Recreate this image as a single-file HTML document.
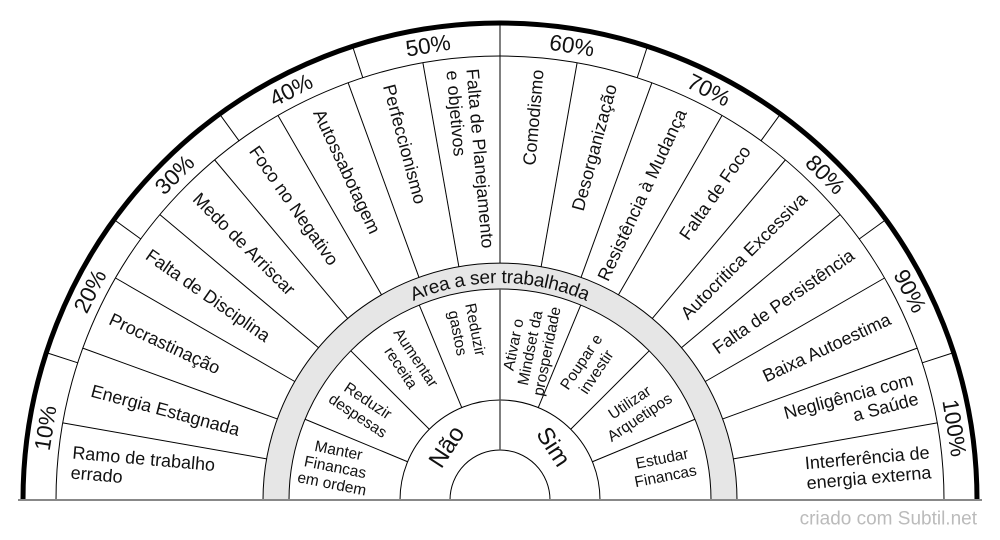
<!DOCTYPE html>
<html><head><meta charset="utf-8"><style>
html,body{margin:0;padding:0;background:#fff;}
svg{display:block;font-family:"Liberation Sans",Arial,sans-serif;}
.m{font-size:18px;fill:#111}
.p{font-size:22.5px;fill:#111}
.i{font-size:15.5px;fill:#111}
</style></head><body>
<svg width="1000" height="540" viewBox="0 0 1000 540" xmlns="http://www.w3.org/2000/svg">
<defs><path id="ap" d="M 277 500 A 223 223 0 0 1 723 500"/></defs>
<path d="M 263 500 A 237 237 0 0 1 737 500 L 711 500 A 211 211 0 0 0 289 500 Z" fill="#e6e6e6" stroke="#000" stroke-width="1"/>
<g fill="none" stroke="#000" stroke-width="1">
<path d="M 450 500 A 50 50 0 0 1 550 500"/>
<path d="M 400 500 A 100 100 0 0 1 600 500"/>
<path d="M 56 500 A 444 444 0 0 1 944 500"/>
</g>
<path d="M 23 500 A 477 477 0 0 1 977 500" fill="none" stroke="#000" stroke-width="5"/>
<g transform="translate(500,500)" stroke="#000" stroke-width="1">
<line x1="-237" y1="0" x2="-444" y2="0" transform="rotate(10)"/>
<line x1="-237" y1="0" x2="-444" y2="0" transform="rotate(20)"/>
<line x1="-237" y1="0" x2="-444" y2="0" transform="rotate(30)"/>
<line x1="-237" y1="0" x2="-444" y2="0" transform="rotate(40)"/>
<line x1="-237" y1="0" x2="-444" y2="0" transform="rotate(50)"/>
<line x1="-237" y1="0" x2="-444" y2="0" transform="rotate(60)"/>
<line x1="-237" y1="0" x2="-444" y2="0" transform="rotate(70)"/>
<line x1="-237" y1="0" x2="-444" y2="0" transform="rotate(80)"/>
<line x1="-237" y1="0" x2="-477" y2="0" transform="rotate(90)"/>
<line x1="-237" y1="0" x2="-444" y2="0" transform="rotate(100)"/>
<line x1="-237" y1="0" x2="-444" y2="0" transform="rotate(110)"/>
<line x1="-237" y1="0" x2="-444" y2="0" transform="rotate(120)"/>
<line x1="-237" y1="0" x2="-444" y2="0" transform="rotate(130)"/>
<line x1="-237" y1="0" x2="-444" y2="0" transform="rotate(140)"/>
<line x1="-237" y1="0" x2="-444" y2="0" transform="rotate(150)"/>
<line x1="-237" y1="0" x2="-444" y2="0" transform="rotate(160)"/>
<line x1="-237" y1="0" x2="-444" y2="0" transform="rotate(170)"/>
<line x1="-444" y1="0" x2="-477" y2="0" transform="rotate(18)"/>
<line x1="-444" y1="0" x2="-477" y2="0" transform="rotate(36)"/>
<line x1="-444" y1="0" x2="-477" y2="0" transform="rotate(54)"/>
<line x1="-444" y1="0" x2="-477" y2="0" transform="rotate(72)"/>
<line x1="-444" y1="0" x2="-477" y2="0" transform="rotate(108)"/>
<line x1="-444" y1="0" x2="-477" y2="0" transform="rotate(126)"/>
<line x1="-444" y1="0" x2="-477" y2="0" transform="rotate(144)"/>
<line x1="-444" y1="0" x2="-477" y2="0" transform="rotate(162)"/>
<line x1="-100" y1="0" x2="-211" y2="0" transform="rotate(22.5)"/>
<line x1="-100" y1="0" x2="-211" y2="0" transform="rotate(45)"/>
<line x1="-100" y1="0" x2="-211" y2="0" transform="rotate(67.5)"/>
<line x1="-100" y1="0" x2="-211" y2="0" transform="rotate(112.5)"/>
<line x1="-100" y1="0" x2="-211" y2="0" transform="rotate(135)"/>
<line x1="-100" y1="0" x2="-211" y2="0" transform="rotate(157.5)"/>
<line x1="0" y1="-50" x2="0" y2="-211" stroke="#555" stroke-width="1.5"/>
</g>
<line x1="18" y1="500" x2="982" y2="500" stroke="#888" stroke-width="2"/>

<g class="m" transform="translate(500,500)" dominant-baseline="central">
<text transform="rotate(5)"><tspan x="-430" y="-10">Ramo de trabalho</tspan><tspan x="-430" y="10">errado</tspan></text>
<text transform="rotate(15)" x="-423" y="0">Energia Estagnada</text>
<text transform="rotate(25)" x="-430" y="0">Procrastinação</text>
<text transform="rotate(35)" x="-430" y="0">Falta de Disciplina</text>
<text transform="rotate(45)" x="-430" y="0">Medo de Arriscar</text>
<text transform="rotate(55)" x="-430" y="0">Foco no Negativo</text>
<text transform="rotate(65)" x="-430" y="0">Autossabotagem</text>
<text transform="rotate(75)" x="-430" y="0">Perfeccionismo</text>
<text transform="rotate(85)"><tspan x="-432" y="-10">Falta de Planejamento</tspan><tspan x="-432" y="10">e objetivos</tspan></text>
</g>
<g class="m" transform="translate(500,500)" dominant-baseline="central" text-anchor="end">
<text transform="rotate(-85)" x="432" y="0">Comodismo</text>
<text transform="rotate(-75)" x="430" y="0">Desorganização</text>
<text transform="rotate(-65)" x="430" y="0">Resistência à Mudança</text>
<text transform="rotate(-55)" x="430" y="0">Falta de Foco</text>
<text transform="rotate(-45)" x="430" y="0">Autocritica Excessiva</text>
<text transform="rotate(-35)" x="430" y="0">Falta de Persistência</text>
<text transform="rotate(-25)" x="430" y="0">Baixa Autoestima</text>
<text transform="rotate(-15)"><tspan x="430" y="-10">Negligência com</tspan><tspan x="430" y="10">a Saúde</tspan></text>
<text transform="rotate(-5)"><tspan x="432" y="-10">Interferência de</tspan><tspan x="432" y="10">energia externa</tspan></text>
</g>
<g class="p" transform="translate(500,500)" dominant-baseline="central" text-anchor="middle">
<text transform="rotate(-81)" x="0" y="-460">10%</text>
<text transform="rotate(-63)" x="0" y="-460">20%</text>
<text transform="rotate(-45)" x="0" y="-460">30%</text>
<text transform="rotate(-27)" x="0" y="-460">40%</text>
<text transform="rotate(-9)" x="0" y="-460">50%</text>
<text transform="rotate(9)" x="0" y="-460">60%</text>
<text transform="rotate(27)" x="0" y="-460">70%</text>
<text transform="rotate(45)" x="0" y="-460">80%</text>
<text transform="rotate(63)" x="0" y="-460">90%</text>
<text transform="rotate(81)" x="0" y="-460">100%</text>
</g>
<g class="i" transform="translate(500,500)" dominant-baseline="central" text-anchor="middle">
<text transform="rotate(11.25)"><tspan x="-168" y="-17">Manter</tspan><tspan x="-168" y="0">Financas</tspan><tspan x="-168" y="17">em ordem</tspan></text>
<text transform="rotate(33.75)"><tspan x="-165" y="-9">Reduzir</tspan><tspan x="-165" y="9">despesas</tspan></text>
<text transform="rotate(56.25)"><tspan x="-165" y="-9">Aumentar</tspan><tspan x="-165" y="9">receita</tspan></text>
<text transform="rotate(78.75)"><tspan x="-172" y="-9">Reduzir</tspan><tspan x="-172" y="9">gastos</tspan></text>
<text transform="rotate(-78.75)"><tspan x="155" y="-17">Ativar o</tspan><tspan x="155" y="0">Mindset da</tspan><tspan x="155" y="17">prosperidade</tspan></text>
<text transform="rotate(-56.25)"><tspan x="160" y="-9">Poupar e</tspan><tspan x="160" y="9">investir</tspan></text>
<text transform="rotate(-33.75)"><tspan x="162" y="-9">Utilizar</tspan><tspan x="162" y="9">Arquetipos</tspan></text>
<text transform="rotate(-11.25)"><tspan x="167" y="-9">Estudar</tspan><tspan x="167" y="9">Financas</tspan></text>
</g>
<g transform="translate(500,500)" font-size="24" dominant-baseline="central" text-anchor="middle" fill="#111">
<text transform="rotate(-45) translate(0,-75) rotate(-12)" x="0" y="0">Não</text>
<text transform="rotate(45) translate(0,-75) rotate(12)" x="0" y="0">Sim</text>
</g>
<text font-size="19" fill="#111" dominant-baseline="central" text-anchor="middle"><textPath href="#ap" startOffset="50%">Area a ser trabalhada</textPath></text>
<text x="977" y="519" font-size="19" fill="#bbb" text-anchor="end" dominant-baseline="central">criado com Subtil.net</text>
</svg>
</body></html>
